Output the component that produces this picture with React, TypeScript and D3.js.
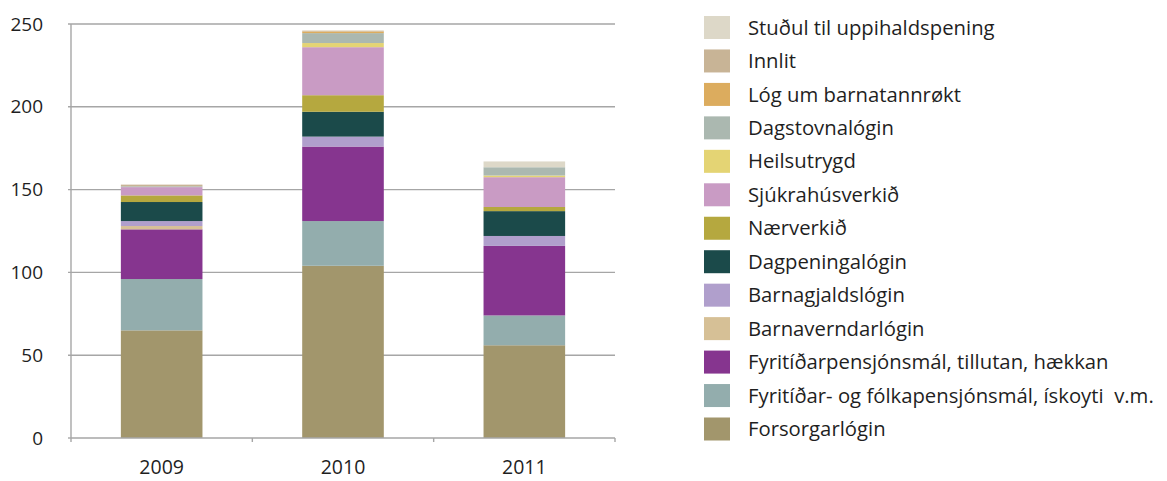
import * as d3 from "d3";

const years = ["2009", "2010", "2011"];

// series listed bottom-to-top in stack order
const seriesNames = [
  "Forsorgarlógin",
  "Fyritíðar- og fólkapensjónsmál, ískoyti  v.m.",
  "Fyritíðarpensjónsmál, tillutan, hækkan",
  "Barnaverndarlógin",
  "Barnagjaldslógin",
  "Dagpeningalógin",
  "Nærverkið",
  "Sjúkrahúsverkið",
  "Heilsutrygd",
  "Dagstovnalógin",
  "Lóg um barnatannrøkt",
  "Innlit",
  "Stuðul til uppihaldspening",
];

const seriesColors = [
  "#a2966c",
  "#93adad",
  "#86358f",
  "#d6c096",
  "#b09fcc",
  "#1b4a4a",
  "#b5a83f",
  "#c99bc4",
  "#e4d474",
  "#abb8b0",
  "#dcac5e",
  "#c8b496",
  "#ddd8c8",
];

// values per series, one per year
const forsorg = [65, 104, 56];
const fyritidarOg = [31, 27, 18];
const fyritidarPensjon = [30, 45, 42];
const barnavernd = [2, 0, 0];
const barnagjald = [3, 6, 6];
const dagpeninga = [11.5, 15, 15];
const naerverk = [4, 10, 2.5];
const sjukrahus = [5, 29, 18];
const heilsutrygd = [0, 2.5, 1];
const dagstovn = [0.5, 6, 5];
const barnatann = [0, 1, 0];
const innlit = [1, 0.5, 0];
const studul = [0, 0, 3.5];

const seriesValues = [
  forsorg, fyritidarOg, fyritidarPensjon, barnavernd, barnagjald, dagpeninga,
  naerverk, sjukrahus, heilsutrygd, dagstovn, barnatann, innlit, studul,
];

const yTicks = [0, 50, 100, 150, 200, 250];

const FONT = "'Open Sans', sans-serif";
const TEXT = "#1f1f1f";

export default function App() {
  const width = 1167, height = 481;
  const left = 71, right = 615, top = 24, bottom = 438;

  const x = d3.scaleBand().domain(years).range([left, right]).paddingInner(0.55).paddingOuter(0.275);
  const y = d3.scaleLinear().domain([0, 250]).range([bottom, top]);

  const rows = years.map((yr, i) => {
    const r: any = { year: yr };
    seriesNames.forEach((n, s) => (r[n] = seriesValues[s][i]));
    return r;
  });
  const stacked = d3.stack().keys(seriesNames)(rows);

  const band = (right - left) / years.length;

  // legend drawn top to bottom in reverse stack order
  const legendItems = seriesNames.map((n, i) => ({ name: n, color: seriesColors[i] })).reverse();
  const legend = d3.scalePoint().domain(legendItems.map(d => d.name)).range([27.5, 429]);

  return (
    <div style={{ position: "fixed", left: 0, top: 0 }}>
      <svg width={width} height={height} style={{ display: "block", background: "#fff" }}>
        {yTicks.map(t => (
          <g key={t}>
            <line x1={left - 3} x2={t === 0 ? left : right} y1={y(t)} y2={y(t)} stroke="#a6a6a6" strokeWidth={1.4} />
            <text x={43} y={y(t)} dy="0.35em" textAnchor="end" fontFamily={FONT} fontSize={19} fill={TEXT}>
              {t}
            </text>
          </g>
        ))}

        {stacked.map((layer, s) => (
          <g key={layer.key} fill={seriesColors[s]}>
            {layer.map((d, i) => (
              d[1] - d[0] > 0 ? (
                <rect
                  key={i}
                  x={x(years[i])}
                  width={x.bandwidth()}
                  y={y(d[1])}
                  height={y(d[0]) - y(d[1])}
                />
              ) : null
            ))}
          </g>
        ))}

        <line x1={left} x2={left} y1={top} y2={bottom} stroke="#a6a6a6" strokeWidth={1.4} />
        <line x1={left} x2={right} y1={bottom} y2={bottom} stroke="#a6a6a6" strokeWidth={1.4} />
        {d3.range(years.length + 1).map(i => (
          <line key={i} x1={left + i * band} x2={left + i * band} y1={bottom} y2={bottom + 4} stroke="#a6a6a6" strokeWidth={1.4} />
        ))}
        {years.map(yr => (
          <text key={yr} x={x(yr)! + x.bandwidth() / 2} y={474} textAnchor="middle" fontFamily={FONT} fontSize={19.5} fill={TEXT}>
            {yr}
          </text>
        ))}

        {legendItems.map(d => (
          <g key={d.name} transform={`translate(704,${legend(d.name)})`}>
            <rect x={0} y={-11.5} width={26} height={23} fill={d.color} />
            <text x={44} y={0} dy="0.35em" fontFamily={FONT} fontSize={20.3} fill={TEXT} style={{ whiteSpace: "pre" }}>
              {d.name}
            </text>
          </g>
        ))}
      </svg>
    </div>
  );
}
